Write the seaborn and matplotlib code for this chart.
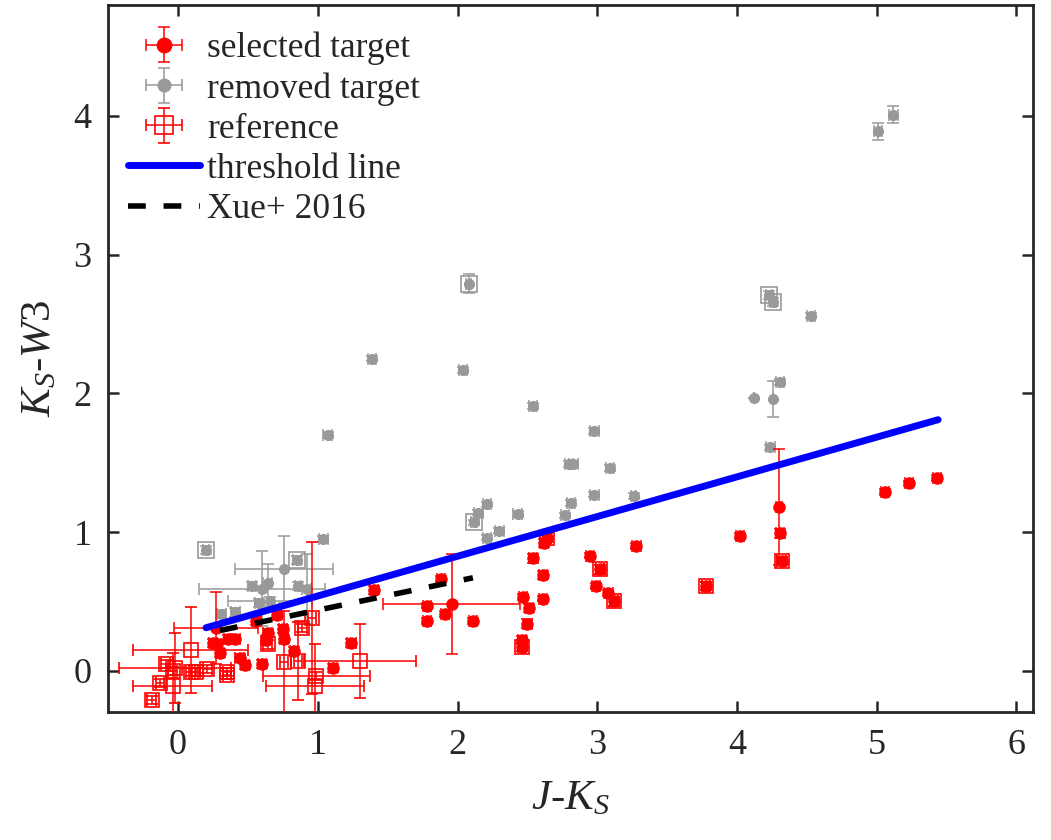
import numpy as np
import matplotlib
matplotlib.use("Agg")
import matplotlib.pyplot as plt
import seaborn as sns

# ---------------- data ----------------
sel_x = [5.06, 5.23, 5.43, 4.02, 4.30, 4.31, 4.32, 3.78, 3.28, 2.95, 3.02, 2.99, 3.08, 3.12,
         2.64, 2.62, 2.54, 2.61, 2.61, 2.47, 2.51, 2.50, 2.46, 2.46, 2.11, 1.88, 1.78, 1.78,
         1.91, 1.96, 1.40, 1.24, 1.11, 0.83, 0.76, 0.75, 0.71, 0.63, 0.64, 0.60, 0.48, 0.44,
         0.41, 0.36, 0.28, 0.30, 0.25, 0.27, 0.56]
sel_y = [1.29, 1.35, 1.39, 0.97, 1.18, 0.99, 0.79, 0.61, 0.90, 0.83, 0.73, 0.61, 0.56, 0.50,
         0.96, 0.92, 0.81, 0.69, 0.52, 0.53, 0.45, 0.34, 0.22, 0.17, 0.36, 0.66, 0.47, 0.36,
         0.41, 0.48, 0.58, 0.20, 0.02, 0.14, 0.23, 0.30, 0.40, 0.22, 0.27, 0.05, 0.04, 0.09,
         0.23, 0.23, 0.19, 0.13, 0.20, 0.31, 0.36]
sel_xe = [0.03, 0.03, 0.03, 0.03, 0.02, 0.03, 0.03, 0.03, 0.03, 0.03, 0.03, 0.03, 0.03, 0.03,
          0.03, 0.03, 0.03, 0.03, 0.03, 0.03, 0.03, 0.03, 0.03, 0.03, 0.03, 0.03, 0.03, 0.03,
          0.03, 0.49, 0.03, 0.03, 0.03, 0.03, 0.03, 0.03, 0.03, 0.03, 0.03, 0.03, 0.03, 0.03,
          0.03, 0.03, 0.03, 0.03, 0.03, 0.30, 0.03]
sel_ye = [0.02, 0.02, 0.02, 0.02, 0.42, 0.03, 0.03, 0.03, 0.02, 0.02, 0.03, 0.02, 0.02, 0.03,
          0.03, 0.03, 0.03, 0.03, 0.02, 0.02, 0.03, 0.03, 0.03, 0.03, 0.02, 0.02, 0.02, 0.02,
          0.02, 0.36, 0.03, 0.03, 0.03, 0.03, 0.03, 0.03, 0.03, 0.03, 0.03, 0.03, 0.03, 0.03,
          0.03, 0.03, 0.03, 0.03, 0.03, 0.26, 0.03]

rem_x = [5.01, 5.12, 1.39, 2.08, 2.04, 2.54, 1.07, 2.98, 4.23, 4.26, 4.53, 4.12, 4.26, 4.31,
         4.24, 2.80, 2.83, 3.09, 2.98, 3.26, 2.43, 2.21, 2.15, 2.12, 2.21, 2.30, 2.81, 2.77,
         0.20, 1.04, 0.76, 0.85, 0.86, 0.92, 0.60, 0.64, 0.53, 0.58, 0.66, 0.31, 0.41]
rem_y = [3.89, 4.01, 2.25, 2.79, 2.17, 1.91, 1.70, 1.73, 2.71, 2.66, 2.56, 1.97, 1.96, 2.08,
         1.61, 1.49, 1.49, 1.46, 1.27, 1.26, 1.13, 1.20, 1.14, 1.07, 0.96, 1.01, 1.21, 1.12,
         0.87, 0.95, 0.73, 0.80, 0.61, 0.59, 0.59, 0.63, 0.61, 0.49, 0.50, 0.41, 0.42]
rem_xe = [0.03, 0.03, 0.03, 0.02, 0.03, 0.03, 0.03, 0.03, 0.02, 0.02, 0.03, 0.00, 0.00, 0.03,
          0.03, 0.03, 0.03, 0.03, 0.03, 0.02, 0.03, 0.03, 0.03, 0.02, 0.03, 0.03, 0.03, 0.03,
          0.02, 0.03, 0.35, 0.03, 0.02, 0.03, 0.45, 0.03, 0.03, 0.03, 0.30, 0.03, 0.03]
rem_ye = [0.06, 0.06, 0.02, 0.07, 0.02, 0.02, 0.02, 0.02, 0.03, 0.03, 0.02, 0.00, 0.13, 0.02,
          0.02, 0.02, 0.02, 0.02, 0.02, 0.02, 0.02, 0.02, 0.02, 0.02, 0.02, 0.02, 0.02, 0.02,
          0.03, 0.02, 0.24, 0.03, 0.03, 0.25, 0.27, 0.14, 0.03, 0.03, 0.03, 0.03, 0.03]

# removed targets that are also reference objects (grey squares)
remref_x = [0.20, 2.08, 4.23, 4.26, 2.12, 0.85]
remref_y = [0.87, 2.79, 2.71, 2.66, 1.07, 0.80]

ref_x = [4.32, 3.78, 3.02, 3.12, 2.64, 2.46, 0.89, 0.96, 0.64, 0.76, 0.86, 1.30, 0.99, 0.98,
         0.09, -0.09, -0.02, -0.04, 0.09, 0.13, 0.21, 0.35, 0.35, -0.13, -0.04, -0.19]
ref_y = [0.79, 0.61, 0.73, 0.50, 0.96, 0.17, 0.31, 0.38, 0.19, 0.06, 0.07, 0.07, -0.04, -0.11,
         0.15, 0.05, 0.02, 0.00, -0.01, -0.01, 0.01, -0.01, -0.03, -0.09, -0.11, -0.21]
ref_xe = [0.03, 0.03, 0.03, 0.03, 0.03, 0.03, 0.03, 0.03, 0.03, 0.03, 0.03, 0.40, 0.38, 0.35,
          0.41, 0.03, 0.40, 0.03, 0.03, 0.03, 0.03, 0.03, 0.03, 0.03, 0.28, 0.03]
ref_ye = [0.03, 0.03, 0.03, 0.03, 0.03, 0.03, 0.03, 0.55, 0.03, 0.37, 0.28, 0.27, 0.03, 0.30,
          0.31, 0.03, 0.25, 0.03, 0.03, 0.03, 0.03, 0.03, 0.03, 0.03, 0.24, 0.03]

thr_x = [0.20, 5.44]
thr_y = [0.31, 1.81]
xue_x = [0.30, 2.11]
xue_y = [0.29, 0.67]

# ---------------- style ----------------
sns.set_theme(style="ticks")
plt.rcParams['font.family'] = ['Liberation Serif', 'DejaVu Serif']
plt.rcParams['mathtext.fontset'] = 'custom'
plt.rcParams['mathtext.rm'] = 'Liberation Serif'
plt.rcParams['mathtext.it'] = 'Liberation Serif:italic'

RED = '#ff0000'
GREY = '#999999'
BLUE = '#0000ff'
INK = '#262626'

fig = plt.figure(figsize=(10.51, 8.40), dpi=100)
ax = fig.add_axes([0.103, 0.152, 0.880, 0.842])

# removed targets (grey)
ax.errorbar(rem_x, rem_y, xerr=rem_xe, yerr=rem_ye, fmt='o', color=GREY,
            ms=7, mec=GREY, mfc=GREY, elinewidth=1.1, capsize=4, capthick=1.1,
            label='removed target', zorder=2)
ax.errorbar(remref_x, remref_y, fmt='s', ms=11, mfc='none', mec=GREY, mew=1.2,
            color=GREY, zorder=2)

# reference (red squares)
ax.errorbar(ref_x, ref_y, xerr=ref_xe, yerr=ref_ye, fmt='s', color=RED,
            ms=10, mfc='none', mec=RED, mew=1.2, elinewidth=1.1, capsize=4,
            capthick=1.1, label='reference', zorder=3)

# selected targets (red filled circles)
ax.errorbar(sel_x, sel_y, xerr=sel_xe, yerr=sel_ye, fmt='o', color=RED,
            ms=8, mec=RED, mfc=RED, elinewidth=1.1, capsize=4, capthick=1.1,
            label='selected target', zorder=4)

# lines through seaborn
sns.lineplot(x=thr_x, y=thr_y, color=BLUE, lw=5, ax=ax, label='threshold line',
             zorder=6, solid_capstyle='round')
sns.lineplot(x=xue_x, y=xue_y, color='black', lw=4, ax=ax, label='Xue+ 2016',
             zorder=6, dashes=(3.2, 3.2))

ax.set_xlim(-0.5, 6.12)
ax.set_ylim(-0.30, 4.80)
ax.set_xticks([0, 1, 2, 3, 4, 5, 6])
ax.set_yticks([0, 1, 2, 3, 4])

ax.tick_params(direction='in', length=8, width=1.8, labelsize=26, top=True, right=True,
               pad=12, color=INK, labelcolor=INK)
for s in ax.spines.values():
    s.set_linewidth(2.0)
    s.set_color(INK)

ax.set_xlabel(r'$J$-$K_S$', fontsize=31, color=INK, labelpad=13)
ax.set_ylabel(r'$K_S$-$\mathit{W3}$', fontsize=31, color=INK, labelpad=10)

handles, labels = ax.get_legend_handles_labels()
order = ['selected target', 'removed target', 'reference', 'threshold line', 'Xue+ 2016']
hd = dict(zip(labels, handles))
leg = ax.legend([hd[k] for k in order], order, loc='upper left', frameon=False,
                fontsize=25.5, handlelength=2.05, handletextpad=0.2, labelspacing=0.2,
                bbox_to_anchor=(0.0, 0.99), borderaxespad=0.25, borderpad=0.3,
                markerscale=1.3)

fig.savefig('out.png', dpi=100)
